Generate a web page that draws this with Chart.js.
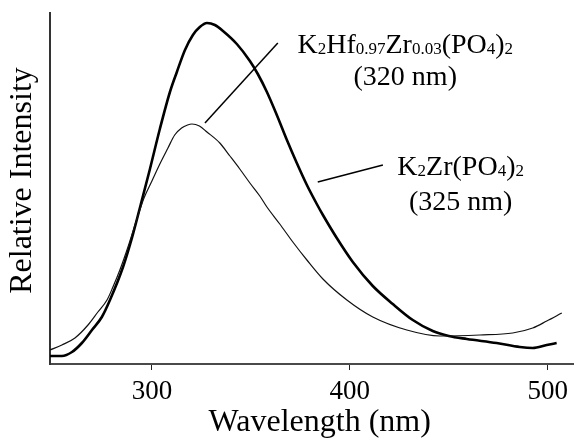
<!DOCTYPE html>
<html>
<head>
<meta charset="utf-8">
<script src="https://cdn.jsdelivr.net/npm/chart.js@4/dist/chart.umd.min.js"></script>
<style>
  html, body { margin: 0; padding: 0; background: #fff; }
  #wrap { width: 574px; height: 442px; }
</style>
</head>
<body>
<div id="wrap"><canvas id="chart" width="574" height="442"></canvas></div>
<script>
// K2Zr(PO4)2 emission (thick line)
var zrWavelength = [248.5, 254.5, 259.6, 264.6, 269.7, 274.7, 278.8, 285.4, 289.9, 293.9, 299, 304, 309.1, 312.6, 316.7, 320.7, 324.2, 327.8, 331.8, 335.9, 342.9, 349.5, 353.5, 358.1, 363.1, 368.2, 373.2, 378.3, 383.3, 386.4, 393.4, 401.5, 411.6, 421.7, 431.8, 441.9, 450, 459.1, 474.2, 485.9, 492.4, 499.5, 504.5];
var zrIntensity  = [8, 8, 12, 21, 34, 47, 64, 97, 126, 156, 195, 235, 272, 292, 314, 329, 337, 341, 339, 333, 320, 303, 290, 272, 249, 224, 201, 179, 160, 149, 126, 102, 78, 60, 44, 33, 28, 25, 21, 17, 16, 19, 21];

// K2Hf0.97Zr0.03(PO4)2 emission (thin line)
var hfWavelength = [248.5, 254.5, 261.1, 267.7, 272.7, 277.3, 280.3, 283.8, 287.9, 292.4, 296, 300, 304, 308.1, 311.5, 315, 318, 320.2, 324, 327.8, 334.3, 339.4, 344.4, 349.5, 354.5, 358.1, 364.6, 371.2, 378.3, 386.4, 398.5, 411.6, 428.8, 445.5, 465.7, 482.3, 492.4, 499.5, 507.1];
var hfIntensity  = [14, 19, 26, 39, 52, 64, 77, 94, 117, 145, 166, 183, 200, 216, 229, 236, 239, 240, 238, 232, 221, 208, 195, 181, 168, 157, 140, 122, 104, 85, 64, 47, 34, 28, 29, 31, 36, 43, 51];

var xTicks = [300, 400, 500];

// label text runs: [text, isSubscript]
var hfLabel = [['K', 0], ['2', 1], ['Hf', 0], ['0.97', 1], ['Zr', 0], ['0.03', 1], ['(PO', 0], ['4', 1], [')', 0], ['2', 1]];
var hfPeak = '(320 nm)';
var zrLabel = [['K', 0], ['2', 1], ['Zr(PO', 0], ['4', 1], [')', 0], ['2', 1]];
var zrPeak = '(325 nm)';

function toPoints(xs, ys) {
    var pts = [];
    for (var i = 0; i < xs.length; i++) {
        pts.push({ x: xs[i], y: ys[i] });
    }
    return pts;
}

var serif = '"Liberation Serif", "Times New Roman", serif';

// draws the two labels and their leader lines in data units
var labelPlugin = {
    id: 'labels',
    afterDatasetsDraw: function (chart) {
        var ctx = chart.ctx;
        var xs = chart.scales.x, ys = chart.scales.y;
        var px = function (v) { return xs.getPixelForValue(v); };
        var py = function (v) { return ys.getPixelForValue(v); };

        var runs = function (parts, cx, by) {
            var main = '28px ' + serif, sub = '17px ' + serif;
            var w = 0;
            parts.forEach(function (p) {
                ctx.font = p[1] ? sub : main;
                w += ctx.measureText(p[0]).width;
            });
            var x = cx - w / 2;
            ctx.textAlign = 'left';
            ctx.textBaseline = 'alphabetic';
            parts.forEach(function (p) {
                ctx.font = p[1] ? sub : main;
                ctx.fillText(p[0], x, by + (p[1] ? 1 : 0));
                x += ctx.measureText(p[0]).width;
            });
        };
        var line = function (x1, y1, x2, y2) {
            ctx.beginPath();
            ctx.moveTo(px(x1), py(y1));
            ctx.lineTo(px(x2), py(y2));
            ctx.stroke();
        };

        ctx.save();
        ctx.fillStyle = '#000';
        ctx.strokeStyle = '#000';
        ctx.lineWidth = 1.5;

        line(326.8, 241, 363.6, 321);
        line(383.8, 182, 416.7, 199);

        runs(hfLabel, px(428), py(311));
        ctx.font = '28px ' + serif;
        ctx.textAlign = 'center';
        ctx.fillText(hfPeak, px(428), py(279));

        runs(zrLabel, px(456), py(189));
        ctx.font = '28px ' + serif;
        ctx.textAlign = 'center';
        ctx.fillText(zrPeak, px(456), py(154));
        ctx.restore();
    }
};

var ctx = document.getElementById('chart').getContext('2d');
var chart = new Chart(ctx, {
    type: 'line',
    data: {
        datasets: [
            {
                label: 'K2Hf0.97Zr0.03(PO4)2',
                data: toPoints(hfWavelength, hfIntensity),
                borderColor: '#111',
                borderWidth: 1.2,
                pointRadius: 0,
                cubicInterpolationMode: 'monotone',
                fill: false
            },
            {
                label: 'K2Zr(PO4)2',
                data: toPoints(zrWavelength, zrIntensity),
                borderColor: '#000',
                borderWidth: 2.6,
                pointRadius: 0,
                cubicInterpolationMode: 'monotone',
                fill: false
            }
        ]
    },
    options: {
        responsive: false,
        animation: false,
        devicePixelRatio: 1,
        layout: { padding: { top: 13, left: 0, right: 0, bottom: 0 } },
        plugins: {
            legend: { display: false },
            tooltip: { enabled: false }
        },
        scales: {
            x: {
                type: 'linear',
                min: 248.5,
                max: 513,
                afterBuildTicks: function (scale) {
                    scale.ticks = xTicks.map(function (v) { return { value: v }; });
                },
                afterFit: function (scale) { scale.height = 78; },
                grid: { display: true, drawOnChartArea: false, tickLength: 6, color: '#222', lineWidth: 1 },
                border: { display: true, color: '#4a4a4a', width: 2 },
                ticks: {
                    padding: 6,
                    color: '#000',
                    font: { family: serif, size: 27 }
                },
                title: {
                    display: true,
                    text: '  Wavelength (nm)',
                    color: '#000',
                    padding: { top: 0, bottom: 0 },
                    font: { family: serif, size: 32 }
                }
            },
            y: {
                type: 'linear',
                min: 0,
                max: 351,
                afterFit: function (scale) { scale.width = 50; },
                grid: { display: true, drawOnChartArea: false, drawTicks: false },
                border: { display: true, color: '#333', width: 2 },
                ticks: { display: false },
                title: {
                    display: true,
                    text: '  Relative Intensity',
                    color: '#000',
                    padding: { top: 3, bottom: 0 },
                    font: { family: serif, size: 32 }
                }
            }
        }
    },
    plugins: [labelPlugin]
});
</script>
</body>
</html>
